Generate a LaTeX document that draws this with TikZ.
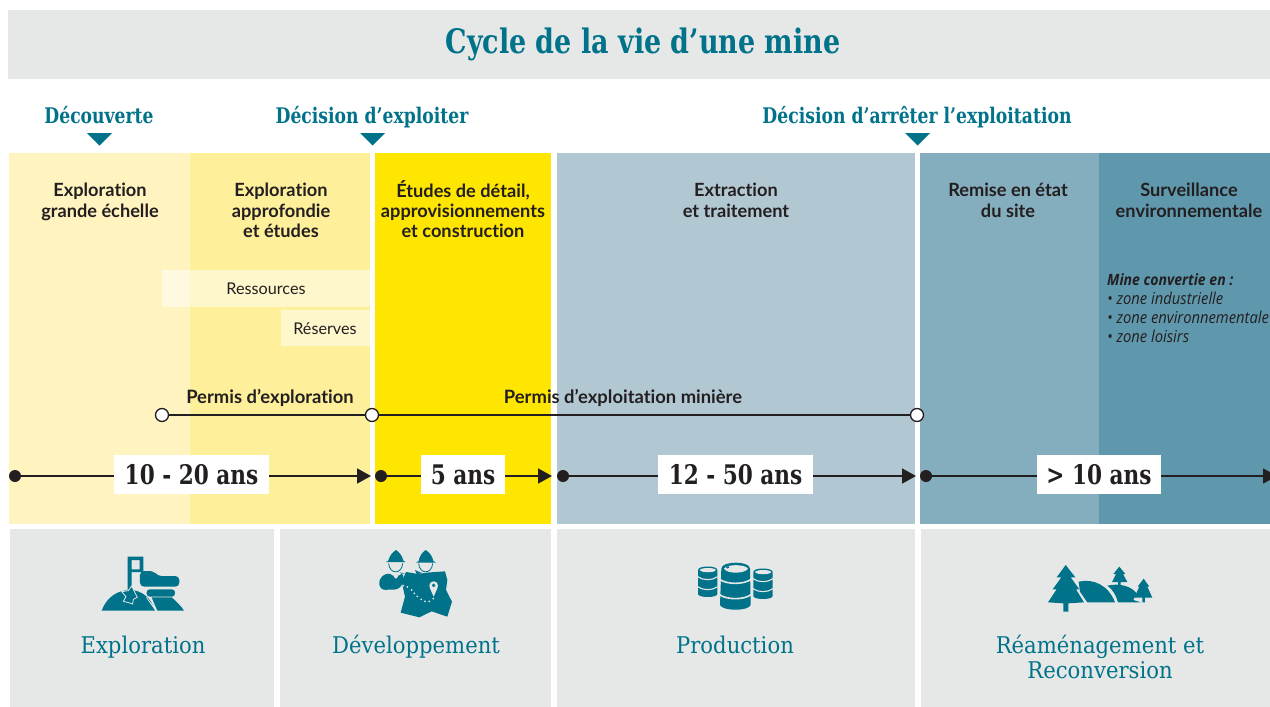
\documentclass[tikz,border=0pt]{standalone}
\usepackage{fontspec}
\usetikzlibrary{arrows.meta}
\setmainfont[Ligatures=NoCommon]{Lato}
\newfontfamily\slabc[FakeStretch=0.8]{DejaVu Serif}
\newfontfamily\slabl[FakeStretch=0.92]{DejaVu Serif}
\newfontfamily\narrow[FakeStretch=0.9]{Open Sans}
\definecolor{teal}{HTML}{00728A}
\definecolor{panel}{HTML}{E6E8E7}
\definecolor{pale}{HTML}{FFF4BF}
\definecolor{mid}{HTML}{FEEF9A}
\definecolor{sun}{HTML}{FFE600}
\definecolor{blueA}{HTML}{B1C8D3}
\definecolor{blueB}{HTML}{84ADBD}
\definecolor{blueC}{HTML}{5F98AD}
\definecolor{ink}{HTML}{231F20}
\tikzset{
  milestone/.style={font=\slabc\bfseries\fontsize{21.5}{24}\selectfont,text=teal,inner sep=0pt,anchor=base},
  stage/.style={font=\bfseries\fontsize{18.2}{20.4}\selectfont,text=ink,align=center,anchor=north,inner sep=0pt},
  soft/.style={font=\fontsize{16.2}{18}\selectfont,text=ink,inner sep=0pt,anchor=base},
  permit/.style={font=\bfseries\fontsize{18.4}{20}\selectfont,text=ink,inner sep=0pt,anchor=base},
  span/.style={fill=white,font=\slabc\bfseries\fontsize{27}{30}\selectfont,text=ink,inner sep=0pt,text height=19pt,text depth=0pt},
  phase/.style={font=\slabl\fontsize{23}{25}\selectfont,text=teal,align=center,inner sep=0pt,anchor=base},
  hollow/.style={circle,draw=ink,fill=white,line width=1.3pt,minimum size=13pt,inner sep=0pt},
  dot/.style={circle,fill=ink,minimum size=12pt,inner sep=0pt},
  flow/.style={draw=ink,line width=1.8pt,-{Triangle[length=14pt,width=15pt]}},
  permline/.style={draw=ink,line width=1.6pt},
  marker/.style={fill=teal},
  icon/.style={fill=teal,draw=none}
}
\begin{document}
\begin{tikzpicture}[x=1pt,y=-1pt]
\useasboundingbox (0,0) rectangle (1270,707);
\fill[white] (0,0) rectangle (1270,707);
% title
\fill[panel] (8,10) rectangle (1270,79);
\node[font=\slabc\bfseries\fontsize{33.7}{36}\selectfont,text=teal,inner sep=0pt,anchor=base] (title) at (643,53) {Cycle de la vie d’une mine};
% milestones
\node[milestone] (m1) at (99,123) {Découverte};
\node[milestone] (m2) at (372,123) {Décision d’exploiter};
\node[milestone] (m3) at (917,123) {Décision d’arrêter l’exploitation};
\fill[marker] (87,133) -- (112,133) -- (99.5,145.5) -- cycle;
\fill[marker] (360,133) -- (385,133) -- (372.5,145.5) -- cycle;
\fill[marker] (905,133) -- (930,133) -- (917.5,145.5) -- cycle;
% bands
\fill[pale] (9,153) rectangle (190,524);
\fill[mid] (190,153) rectangle (370,524);
\fill[sun] (375,153) rectangle (551,524);
\fill[blueA] (557,153) rectangle (915,524);
\fill[blueB] (920,153) rectangle (1099,524);
\fill[blueC] (1099,153) rectangle (1270,524);
% stage titles
\node[stage] (s1) at (100,183) {Exploration\\grande échelle};
\node[stage] (s2) at (281,183) {Exploration\\approfondie\\et études};
\node[stage] (s3) at (463,180) {Études de détail,\\approvisionnements\\et construction};
\node[stage] (s4) at (736,183) {Extraction\\et traitement};
\node[stage] (s5) at (1008,183) {Remise en état\\du site};
\node[stage] (s6) at (1189,183) {Surveillance\\environnementale};
% resources
\fill[white,opacity=.5] (162,270) rectangle (370,307);
\fill[white,opacity=.5] (281,310) rectangle (370,346);
\node[soft] (res) at (266,294) {Ressources};
\node[soft] (rsv) at (325,334) {Réserves};
% conversion
\node[font=\narrow\itshape\fontsize{16.4}{19}\selectfont,text=ink,align=left,anchor=north west,inner sep=0pt] (conv) at (1107,273)
  {{\bfseries\fontsize{15.6}{19}\selectfont Mine convertie en :}\\• zone industrielle\\• zone environnementale\\• zone loisirs};
% permits
\node[hollow] (p1) at (162,415) {};
\node[hollow] (p2) at (372,415) {};
\node[hollow] (p3) at (917,415) {};
\draw[permline] (p1) -- (p2);
\draw[permline] (p2) -- (p3);
\node[permit] (pe) at (270,403) {Permis d’exploration};
\node[permit] (pm) at (623,403) {Permis d’exploitation minière};
% time spans
\node[dot] (a1) at (15,476) {};
\node[dot] (a2) at (381,476) {};
\node[dot] (a3) at (563,476) {};
\node[dot] (a4) at (926,476) {};
\coordinate (e1) at (371,476);
\coordinate (e2) at (552,476);
\coordinate (e3) at (916,476);
\coordinate (e4) at (1277,476);
\draw[flow] (a1) -- (e1);
\draw[flow] (a2) -- (e2);
\draw[flow] (a3) -- (e3);
\draw[flow] (a4) -- (e4);
\node[span,minimum width=155pt,minimum height=39pt] (d1) at (191.5,474.5) {10 - 20 ans};
\node[span,minimum width=84pt,minimum height=39pt] (d2) at (463,474.5) {5 ans};
\node[span,minimum width=155pt,minimum height=39pt] (d3) at (735.5,474.5) {12 - 50 ans};
\node[span,minimum width=124pt,minimum height=39pt] (d4) at (1099,474.5) {> 10 ans};
% panels
\fill[panel] (10,529) rectangle (274,707);
\fill[panel] (280,529) rectangle (551,707);
\fill[panel] (557,529) rectangle (915,707);
\fill[panel] (921,529) rectangle (1270,707);
\node[phase] (f1) at (143,653) {Exploration};
\node[phase] (f2) at (416,653) {Développement};
\node[phase] (f3) at (735,653) {Production};
\node[phase,anchor=base] (f4) at (1100,653) {Réaménagement et};
\node[phase,anchor=base] (f5) at (1100,678) {Reconversion};
% icon exploration
\begin{scope}[shift={(80,540)},x=.3333pt,y=-.3333pt]
  \fill[icon] (65,212) .. controls (80,170) and (115,150) .. (150,150) .. controls (185,150) and (215,175) .. (225,212) -- cycle;
  \fill[icon] (232,212) -- (215,172) -- (275,172) .. controls (290,185) and (305,200) .. (312,212) -- cycle;
  \fill[icon,even odd rule] (143,50) -- (190,50) -- (190,96) -- (155,96) -- (155,150) -- (143,150) -- cycle (155,60) -- (179,60) -- (179,88) -- (155,88) -- cycle;
  \fill[icon,rounded corners=4pt] (180,93) -- (222,93) -- (232,108) -- (298,108) -- (298,140) -- (180,140) -- cycle;
  \fill[icon,rounded corners=3pt] (200,148) -- (285,148) -- (285,170) -- (200,170) -- cycle;
  \fill[panel] (200,172) -- (232,212) -- (226,212) -- (198,172) -- cycle;
  \draw[panel,line width=.8pt,fill=teal] (155,138) -- (165,158) -- (172,172) -- (160,178) -- (158,192) -- (146,188) -- (130,184) -- (138,170) -- (125,155) -- (145,152) -- cycle;
\end{scope}
% icon development
\begin{scope}[shift={(360,540)},x=.3333pt,y=-.3333pt]
  \fill[icon] (108,30) .. controls (118,36) and (128,50) .. (130,62) -- (137,66) -- (78,66) -- (85,62) .. controls (88,48) and (98,36) .. (108,30) -- cycle;
  \fill[icon] (197,30) .. controls (208,36) and (218,50) .. (220,63) -- (228,68) -- (168,68) -- (176,63) .. controls (178,48) and (188,36) .. (197,30) -- cycle;
  \draw[teal,line width=.8pt] (86,70) .. controls (88,104) and (126,104) .. (128,70);
  \draw[teal,line width=.8pt] (176,70) .. controls (178,104) and (216,104) .. (218,70);
  \fill[icon,rounded corners=6pt] (58,150) -- (58,110) -- (96,96) -- (104,122) -- (112,122) -- (118,96) -- (135,102) -- (122,148) -- cycle;
  \fill[icon] (165,90) -- (188,100) -- (170,102) -- cycle;
  \fill[icon] (138,96) -- (175,102) -- (200,98) -- (255,94) -- (262,120) -- (258,150) -- (276,185) -- (262,230) -- (215,214) -- (178,232) -- (122,218) -- (135,170) -- (125,125) -- cycle;
  \fill[panel] (221,137) circle (4.4pt);
  \fill[panel] (209,143) -- (233,143) -- (221,170) -- cycle;
  \fill[teal] (221,136) circle (1.9pt);
  \fill[panel] (130,137) circle (1pt) (142,141) circle (1pt) (155,150) circle (1pt) (163,160) circle (1pt) (172,169) circle (1pt) (184,178) circle (1pt) (195,184) circle (1pt) (208,184) circle (1pt) (220,176) circle (1pt);
\end{scope}
% icon production
\begin{scope}[shift={(680,550)},x=.3333pt,y=-.3333pt]
  \foreach \l/\r/\t/\b in {54/112/50/140,220/278/56/146}{
    \fill[icon] (\l,\t+10) .. controls (\l,\t-4) and (\r,\t-4) .. (\r,\t+10) -- (\r,\b-8) .. controls (\r,\b+4) and (\l,\b+4) .. (\l,\b-8) -- cycle;
    \fill[panel] (\l+5,\t+10) .. controls (\l+10,\t+2) and (\r-8,\t+2) .. (\r-4,\t+10) .. controls (\r-8,\t+19) and (\l+10,\t+19) .. (\l+5,\t+10) -- cycle;
    \draw[panel,line width=1.1pt] (\l-1,\t+30) .. controls (\l+15,\t+42) and (\r-15,\t+42) .. (\r+1,\t+30);
    \draw[panel,line width=1.1pt] (\l-1,\t+60) .. controls (\l+15,\t+72) and (\r-15,\t+72) .. (\r+1,\t+60);
  }
  \fill[icon] (124,56) .. controls (124,32) and (210,32) .. (210,56) -- (212,165) .. controls (205,184) and (128,184) .. (120,165) -- cycle;
  \fill[panel] (132,56) .. controls (140,42) and (195,42) .. (204,56) .. controls (195,72) and (140,72) .. (132,56) -- cycle;
  \fill[teal] (138,52) .. controls (142,46) and (148,48) .. (148,52) .. controls (146,57) and (140,57) .. (138,52) -- cycle;
  \draw[panel,line width=1.6pt] (119,88) .. controls (140,104) and (192,104) .. (213,88);
  \draw[panel,line width=1.6pt] (119,134) .. controls (140,150) and (192,150) .. (213,134);
\end{scope}
% icon reconversion
\begin{scope}[shift={(1030,550)},x=.3333pt,y=-.3333pt]
  \fill[icon] (146,95) .. controls (190,85) and (235,105) .. (255,157) -- (172,157) -- (150,125) -- cycle;
  \fill[icon] (232,107) .. controls (270,98) and (305,110) .. (320,130) -- (310,150) -- (332,157) -- (264,157) .. controls (258,135) and (248,118) .. (232,107) -- cycle;
  \fill[icon] (107,45) -- (136,82) -- (122,82) -- (148,118) -- (138,118) -- (162,157) -- (115,160) -- (115,185) -- (100,185) -- (100,160) -- (54,157) -- (80,118) -- (68,118) -- (94,82) -- (80,82) -- cycle;
  \fill[icon] (268,50) -- (286,72) -- (279,72) -- (292,96) -- (272,96) -- (272,106) -- (264,106) -- (264,96) -- (246,96) -- (258,72) -- (250,72) -- cycle;
  \fill[icon] (341,86) -- (358,110) -- (352,110) -- (367,143) -- (345,143) -- (345,157) -- (337,157) -- (337,143) -- (313,143) -- (328,110) -- (323,110) -- cycle;
\end{scope}
\end{tikzpicture}
\end{document}
